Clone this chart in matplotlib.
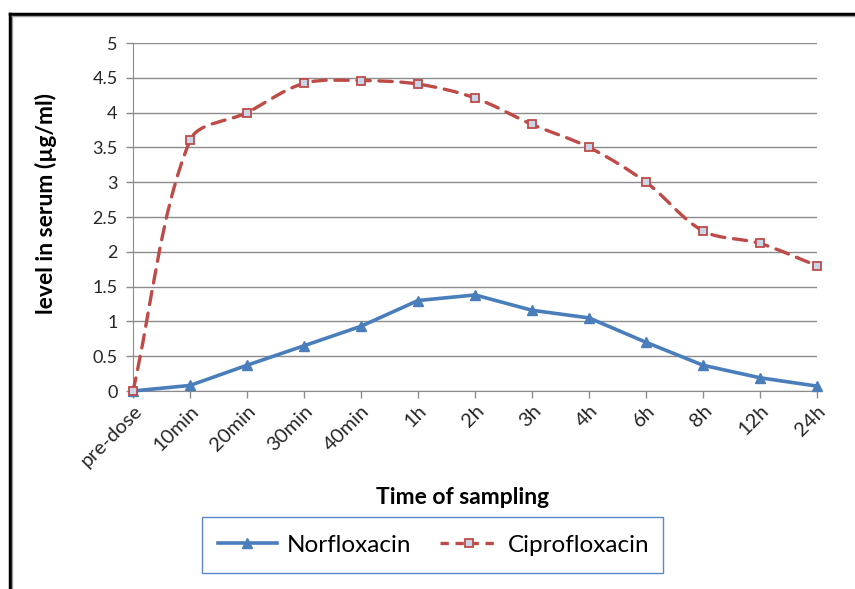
import numpy as np
import matplotlib.pyplot as plt
from matplotlib.path import Path
from matplotlib.patches import PathPatch, Rectangle
from matplotlib.lines import Line2D

plt.rcParams['font.family'] = ['Lato', 'DejaVu Sans']

# sampling times and serum levels (ug/ml)
times = ['pre-dose', '10min', '20min', '30min', '40min', '1h', '2h',
         '3h', '4h', '6h', '8h', '12h', '24h']
norfloxacin = [0, 0.08, 0.37, 0.65, 0.93, 1.30, 1.38, 1.16, 1.05, 0.70, 0.37, 0.19, 0.07]
ciprofloxacin = [0, 3.60, 4.00, 4.42, 4.46, 4.41, 4.21, 3.83, 3.50, 3.00, 2.30, 2.12, 1.80]

blue = '#4A7EBB'
red = '#BE4B48'
grid = '#8C8C8C'


def smooth_path(ax, xs, ys):
    """Excel-like smoothed line, built in pixel space, then mapped back."""
    fig.canvas.draw()
    p = ax.transData.transform(np.column_stack([xs, ys]).astype(float))
    ext = np.vstack([p[0], p, p[-1]])
    verts = [p[0]]
    codes = [Path.MOVETO]
    for i in range(len(p) - 1):
        a, b, c, d = ext[i], ext[i + 1], ext[i + 2], ext[i + 3]
        d_ab = np.hypot(*(b - a))
        d_bc = np.hypot(*(c - b))
        d_cd = np.hypot(*(d - c))
        c1 = b + (c - a) / 3 * d_bc / (d_ab + d_bc)
        c2 = c - (d - b) / 3 * d_bc / (d_bc + d_cd)
        verts += [c1, c2, c]
        codes += [Path.CURVE4] * 3
    verts = ax.transData.inverted().transform(np.array(verts))
    return Path(verts, codes)


fig = plt.figure(figsize=(8.55, 5.89), dpi=100)
ax = fig.add_axes([133 / 855, 1 - 391 / 589, 684 / 855, 348 / 589])

x = np.arange(len(times))
ax.set_xlim(0, len(times) - 1)
ax.set_ylim(0, 5)

ax.plot(x, norfloxacin, color=blue, lw=2.6, marker='^', markersize=7,
        markerfacecolor=blue, markeredgecolor=blue, clip_on=False, zorder=4)

ax.add_patch(PathPatch(smooth_path(ax, x, ciprofloxacin), facecolor='none',
                       edgecolor=red, lw=2.4, linestyle=(0, (4, 2.6)),
                       capstyle='round', clip_on=False, zorder=3))
ax.plot(x, ciprofloxacin, linestyle='none', marker='s', markersize=6,
        markerfacecolor='#C9D6EA', markeredgecolor=red, markeredgewidth=1.3,
        clip_on=False, zorder=5)

ax.set_yticks(np.arange(0, 5.01, 0.5))
ax.set_yticklabels(['0', '0.5', '1', '1.5', '2', '2.5', '3', '3.5', '4', '4.5', '5'])
ax.set_xticks(x)
ax.set_xticklabels(times, rotation=45, ha='right', va='top',
                   rotation_mode='anchor')
ax.tick_params(axis='both', colors=grid, labelcolor='#262626',
               length=5, width=1)
ax.tick_params(axis='y', pad=6, labelsize=13)
ax.tick_params(axis='x', pad=3, labelsize=14.5)

ax.yaxis.grid(True, color=grid, lw=1)
ax.set_axisbelow(True)
for s in ['top', 'right']:
    ax.spines[s].set_visible(False)
for s in ['left', 'bottom']:
    ax.spines[s].set_color(grid)

fig.text(463 / 855, 1 - 497 / 589, 'Time of sampling', ha='center',
         va='center', fontsize=16.5, fontweight='bold')
fig.text(46 / 855, 1 - 204 / 589, 'level in serum (\u00b5g/ml)', ha='center',
         va='center', rotation=90, fontsize=16.5, fontweight='bold')

# legend
fig.patches.append(Rectangle((202 / 855, 1 - 573 / 589), 461 / 855, 56 / 589,
                             transform=fig.transFigure, facecolor='white',
                             edgecolor='#5B87C5', lw=1))
handles = [Line2D([], [], color=blue, lw=2.6, marker='^', markersize=7),
           Line2D([], [], color=red, lw=2.4, linestyle=(0, (2.5, 2)),
                  marker='s', markersize=6, markerfacecolor='#C9D6EA',
                  markeredgecolor=red, markeredgewidth=1.3)]
fig.legend(handles, ['Norfloxacin', 'Ciprofloxacin'], loc='center',
           bbox_to_anchor=(434 / 855, 1 - 545 / 589), ncol=2, frameon=False,
           fontsize=17.5, handlelength=2.4, columnspacing=1.2, handletextpad=0.4)

# outer frame (top and left edges only)
fig.add_artist(Line2D([9.5 / 855, 1], [1 - 13.5 / 589] * 2, color='black',
                      lw=2.5, transform=fig.transFigure))
fig.add_artist(Line2D([9.5 / 855] * 2, [0, 1 - 13.5 / 589], color='black',
                      lw=2.5, transform=fig.transFigure))
fig.add_artist(Line2D([11.5 / 855, 1], [1 - 15.8 / 589] * 2, color='#A0A0A0',
                      lw=1, transform=fig.transFigure))
fig.add_artist(Line2D([11.8 / 855] * 2, [0, 1 - 15.5 / 589], color='#A0A0A0',
                      lw=1, transform=fig.transFigure))

fig.savefig('out.png', dpi=100)
